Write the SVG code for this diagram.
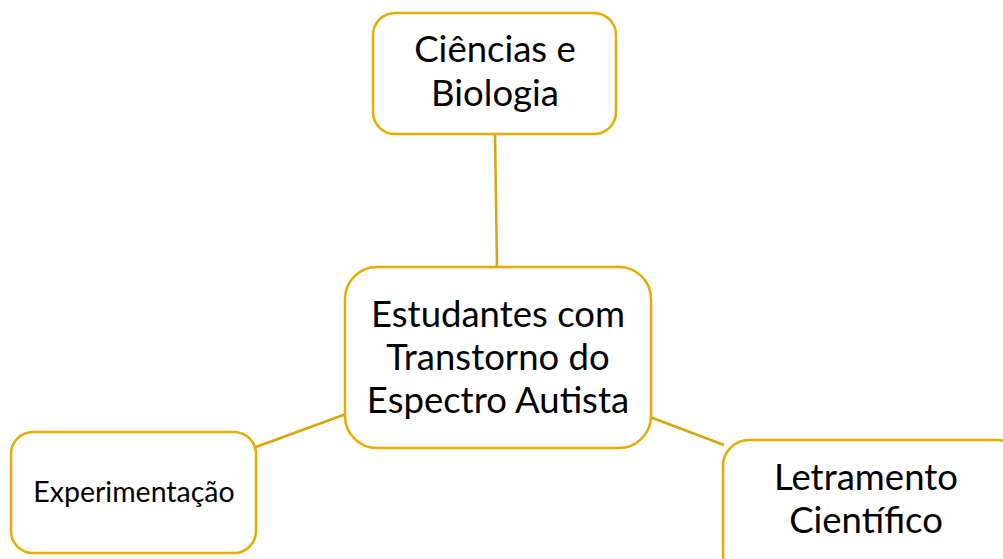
<svg xmlns="http://www.w3.org/2000/svg" width="1003" height="559" viewBox="0 0 1003 559">
<style>
.box{fill:#fff;stroke:#E6AC00;stroke-width:2.5}
.con{stroke:#D9A50C;stroke-width:2.5;fill:none}
text{font-family:Lato,"Open Sans",sans-serif;fill:#000;text-anchor:middle}
.big{font-size:36.5px}
.small{font-size:28.5px}
</style>
<rect width="1003" height="559" fill="#fff"/>
<g id="connectors">
<line class="con" x1="495" y1="134" x2="497" y2="268"/>
<line class="con" x1="256" y1="447" x2="346" y2="414"/>
<line class="con" x1="650" y1="417" x2="724" y2="445"/>
</g>
<g id="node-ciencias">
<rect class="box" x="373" y="13" width="243" height="121" rx="22"/>
<text class="big" x="495" y="62">Ciências e</text>
<text class="big" x="495" y="106">Biologia</text>
</g>
<g id="node-estudantes">
<rect class="box" x="345" y="267" width="306" height="181" rx="32"/>
<text class="big" x="498" y="327">Estudantes com</text>
<text class="big" x="498" y="370">Transtorno do</text>
<text class="big" x="498" y="413">Espectro Autista</text>
</g>
<g id="node-experimentacao">
<rect class="box" x="11" y="432" width="245" height="121" rx="22"/>
<text class="small" x="134" y="502">Experimentação</text>
</g>
<g id="node-letramento">
<rect class="box" x="723" y="440" width="300" height="140" rx="26"/>
<text class="big" x="866" y="490">Letramento</text>
<text class="big" x="866" y="533">Científico</text>
</g>
</svg>
